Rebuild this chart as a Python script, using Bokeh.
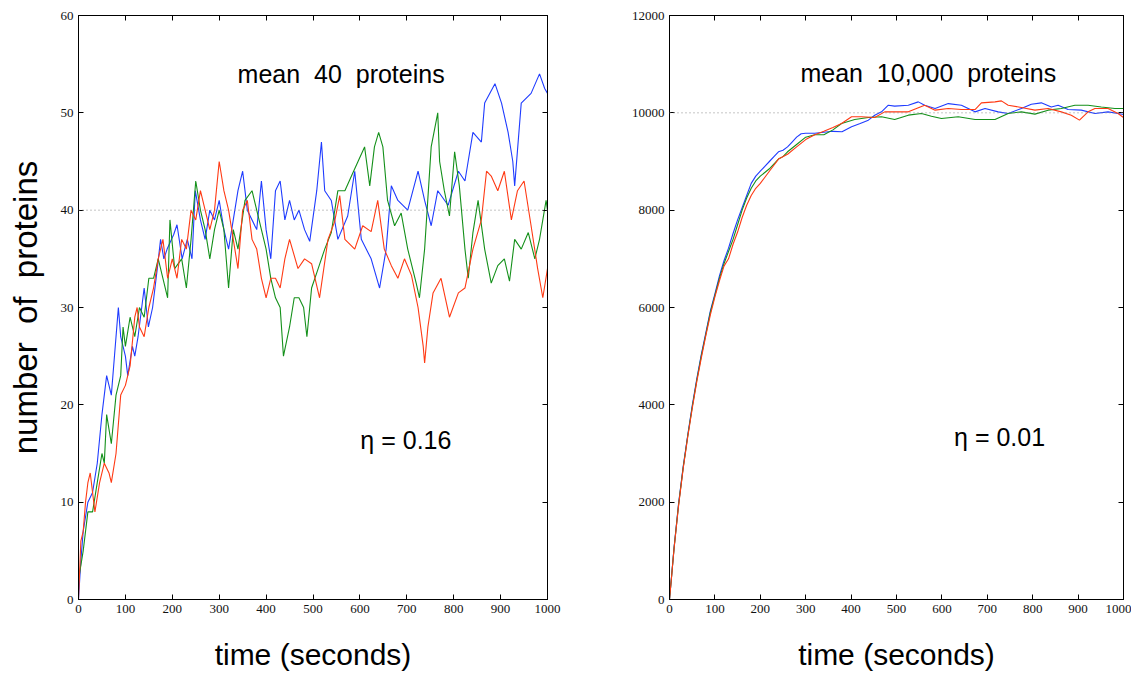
from bokeh.plotting import figure
from bokeh.models import LinearAxis, Span, Label, FixedTicker
from bokeh.layouts import row
from bokeh.embed import file_html
from bokeh.resources import INLINE

# ---------------- data: left panel (mean 40 proteins) ----------------
L_blue_t = [0, 5, 10, 20, 30, 40, 50, 60, 70, 80, 85, 90, 100, 105, 115, 120, 127, 140, 149, 158,
            168, 175, 182, 189, 203, 210, 221, 232, 242, 249, 260, 270, 280, 290, 300, 310, 320,
            340, 350, 360, 380, 390, 400, 410, 420, 430, 440, 450, 460, 470, 482, 493, 508, 518,
            525, 539, 553, 574, 589, 603, 624, 642, 656, 667, 681, 702, 724, 738, 752, 766, 788,
            810, 824, 841, 859, 866, 888, 902, 916, 926, 930, 944, 965, 983, 994, 1000]
L_blue_v = [0, 4, 7, 10, 11, 14, 19, 23, 21, 27, 30, 27, 25, 23, 26, 25, 27, 32, 28, 30,
            34, 37, 35, 36, 37.5, 38.5, 35, 37, 35, 42, 39, 37, 40, 39, 41, 38, 36,
            42, 44, 40, 38, 43, 38, 35, 42, 43, 39, 41, 39, 40, 38, 36.8, 42, 47,
            42, 41, 37, 39.4, 44, 37, 35, 32, 36, 42.5, 41, 40, 44, 41, 38.4, 42, 40.5,
            44, 43, 48, 47, 51, 53, 51, 48, 45, 42.5, 51, 52, 54, 52.5, 52]

L_red_t = [0, 5, 10, 15, 20, 25, 35, 45, 55, 65, 70, 80, 90, 100, 110, 120, 125, 130, 140, 150,
           160, 170, 180, 190, 200, 210, 220, 230, 240, 250, 260, 270, 280, 290, 300, 310, 320,
           330, 340, 350, 360, 370, 380, 390, 400, 410, 420, 430, 440, 450, 468, 482, 497, 514,
           532, 546, 557, 568, 589, 606, 624, 638, 652, 667, 681, 695, 710, 724, 735, 738, 745,
           756, 773, 791, 810, 824, 841, 859, 870, 880, 894, 908, 923, 936, 950, 965, 979, 990,
           1000]
L_red_v = [0, 6, 7, 10, 12, 13, 9, 12, 14, 13, 12, 15, 21, 22, 24, 29, 30, 28, 27, 30,
           32, 35, 37, 33, 35, 33, 37, 36, 40, 39, 42, 40, 38, 40, 45, 42, 40,
           37, 34, 40, 41, 37, 36, 33, 31, 33, 33, 32, 35, 37, 34, 35, 34.5, 31,
           37, 38.8, 41.5, 37, 36, 38.4, 37.8, 41, 36, 34.3, 33, 35, 33.3, 30, 26, 24.3, 28,
           31.5, 33, 29, 31.5, 32, 36, 39, 44, 43.5, 42, 44, 39, 42, 43, 38.4, 34, 31,
           34]

L_green_t = [0, 10, 20, 30, 40, 50, 55, 60, 70, 80, 90, 95, 100, 110, 120, 130, 140, 150, 160,
             170, 180, 190, 195, 205, 220, 230, 240, 250, 260, 270, 280, 290, 300, 310, 320,
             330, 340, 355, 370, 380, 390, 400, 410, 420, 430, 437, 450, 460, 470, 480, 487,
             497, 511, 525, 539, 553, 568, 582, 596, 610, 621, 631, 640, 649, 659, 674, 688,
             702, 720, 727, 738, 752, 766, 770, 780, 791, 802, 812, 824, 831, 841, 852, 866,
             880, 894, 908, 919, 930, 944, 959, 973, 983, 997, 1000]
L_green_v = [2, 5, 9, 9, 12, 15, 14, 19, 16, 21, 23, 28, 26, 29, 27, 30, 29, 33, 33,
             35, 33, 31, 39, 34, 35, 32, 37, 43, 40, 38, 35, 38, 40, 38, 32,
             38, 36, 41, 42, 40, 38, 36, 33, 31, 30, 25, 28, 31, 31, 30, 27,
             32, 34, 36, 37.7, 42, 42, 43.5, 45, 46.5, 42.5, 46.5, 48, 46.5, 41, 38.4, 39.7,
             36, 32.5, 31, 36, 46.5, 50, 45, 42, 39.4, 46, 42.5, 36, 33, 37.7, 41, 36,
             32.5, 34.3, 35, 32.7, 37, 36, 37.7, 35, 37, 41, 40]

L_mean = 40

# ---------------- data: right panel (mean 10,000 proteins) ----------------
R_blue_t = [0, 5, 10, 20, 30, 40, 50, 60, 70, 80, 90, 100, 110, 120, 130, 140, 150, 160, 170,
            180, 190, 200, 210, 220, 230, 240, 250, 260, 270, 280, 290, 300, 320, 340, 360,
            380, 401, 420, 438, 452, 467, 482, 496, 526, 548, 562, 585, 614, 643, 658, 673,
            695, 724, 746, 775, 797, 819, 841, 856, 878, 907, 937, 966, 988, 1000]
R_blue_v = [0, 530, 1060, 1970, 2720, 3370, 3980, 4530, 5030, 5480, 5930, 6280, 6650, 6960,
            7220, 7520, 7800, 8050, 8300, 8550, 8700, 8800, 8900, 9000, 9100, 9200, 9230,
            9300, 9400, 9500, 9570, 9580, 9580, 9600, 9620, 9610, 9713, 9780, 9850, 9950,
            10020, 10157, 10137, 10157, 10225, 10157, 10090, 10190, 10157, 10090, 10020,
            10090, 10020, 9986, 10090, 10178, 10205, 10120, 10157, 10068, 10055, 9986,
            10020, 9986, 9966]

R_green_t = [0, 5, 10, 20, 30, 40, 50, 60, 70, 80, 90, 100, 110, 120, 130, 140, 150, 160, 170,
             180, 190, 200, 220, 240, 250, 260, 280, 300, 320, 340, 360, 379, 408, 438, 467,
             496, 526, 555, 577, 599, 636, 673, 717, 746, 775, 805, 834, 863, 893, 922, 951,
             981, 1000]
R_green_v = [0, 520, 1050, 1950, 2700, 3350, 3950, 4500, 5000, 5450, 5900, 6250, 6600, 6900,
             7150, 7400, 7700, 8000, 8250, 8450, 8600, 8700, 8850, 9050, 9100, 9200, 9350,
             9500, 9550, 9550, 9650, 9780, 9863, 9904, 9918, 9863, 9952, 9986, 9931, 9884,
             9918, 9863, 9863, 9986, 10020, 9973, 10055, 10090, 10157, 10157, 10120, 10090,
             10090]

R_red_t = [0, 5, 10, 20, 30, 40, 50, 60, 70, 80, 90, 100, 110, 120, 130, 140, 150, 160, 170,
           180, 190, 200, 220, 240, 260, 280, 300, 320, 340, 360, 379, 401, 423, 452, 474,
           496, 526, 562, 585, 614, 643, 673, 687, 717, 731, 746, 775, 805, 834, 863, 885,
           903, 922, 937, 966, 988, 1000]
R_red_v = [0, 510, 1040, 1930, 2680, 3330, 3920, 4470, 4960, 5420, 5850, 6220, 6550, 6850,
           7000, 7300, 7550, 7850, 8100, 8300, 8450, 8550, 8800, 9050, 9150, 9300, 9450,
           9550, 9620, 9700, 9780, 9918, 9918, 9904, 10020, 10020, 10020, 10157, 10055,
           10090, 10068, 10068, 10205, 10225, 10246, 10157, 10110, 10055, 10090, 10020,
           9952, 9850, 10020, 10090, 10090, 9986, 9904]

R_mean = 10000

x_ticks = [0, 100, 200, 300, 400, 500, 600, 700, 800, 900, 1000]
L_y_ticks = [0, 10, 20, 30, 40, 50, 60]
R_y_ticks = [0, 2000, 4000, 6000, 8000, 10000, 12000]

BLUE = "#1f3cff"
GREEN = "#14901a"
RED = "#ff3a14"
TICK_FONT = "Liberation Sans Narrow"
TEXT_FONT = "Liberation Sans"
NB = "\u00a0"


def style_axis(ax, labels=True):
    ax.major_tick_in = 5
    ax.major_tick_out = 0
    ax.minor_tick_line_color = None
    ax.axis_line_color = "black"
    ax.major_tick_line_color = "black"
    ax.major_label_text_font = TICK_FONT
    if labels:
        ax.major_label_text_font_size = "13px"
        ax.major_label_text_color = "#111111"
        ax.major_label_standoff = 5
    else:
        ax.major_label_text_font_size = "1px"
        ax.major_label_text_color = None
        ax.major_label_standoff = 0


def make_panel(ymax, yticks, series, mean, fw, mbl, mbr, title, tx, ty, eta, ex, ey, ylabel):
    p = figure(x_range=(0, 1000), y_range=(0, ymax), output_backend="svg",
               toolbar_location=None, frame_width=fw, frame_height=584,
               min_border_left=mbl, min_border_right=mbr, min_border_top=15,
               min_border_bottom=70, background_fill_color="white",
               border_fill_color="white")
    p.grid.visible = False
    p.outline_line_color = "black"
    p.xaxis.ticker = FixedTicker(ticks=x_ticks)
    p.yaxis.ticker = FixedTicker(ticks=yticks)
    style_axis(p.xaxis[0])
    style_axis(p.yaxis[0])
    p.xaxis.axis_label = "time (seconds)"
    p.xaxis.axis_label_text_font = TEXT_FONT
    p.xaxis.axis_label_text_font_size = "30px"
    p.xaxis.axis_label_text_font_style = "normal"
    p.xaxis.axis_label_text_color = "black"
    p.xaxis.axis_label_standoff = 22
    if ylabel:
        p.yaxis.axis_label = ylabel
        p.yaxis.axis_label_text_font = TEXT_FONT
        p.yaxis.axis_label_text_font_size = "33px"
        p.yaxis.axis_label_text_font_style = "normal"
        p.yaxis.axis_label_text_color = "black"
        p.yaxis.axis_label_standoff = 14
    top = LinearAxis(ticker=FixedTicker(ticks=x_ticks))
    style_axis(top, labels=False)
    p.add_layout(top, "above")
    right = LinearAxis(ticker=FixedTicker(ticks=yticks))
    style_axis(right, labels=False)
    p.add_layout(right, "right")

    p.add_layout(Span(location=mean, dimension="width", line_color="#8a8a8a",
                      line_dash="1 3", line_width=1))
    for (t, v, c) in series:
        p.line(t, v, line_color=c, line_width=1.1)

    p.add_layout(Label(x=tx, y=ty, text=title, text_font=TEXT_FONT, text_font_size="25px",
                       text_align="center", text_baseline="middle", text_color="black"))
    p.add_layout(Label(x=ex, y=ey, text=eta, text_font=TEXT_FONT, text_font_size="25px",
                       text_align="center", text_baseline="middle", text_color="black"))
    return p


p1 = make_panel(60, L_y_ticks,
                [(L_blue_t, L_blue_v, BLUE), (L_green_t, L_green_v, GREEN), (L_red_t, L_red_v, RED)],
                L_mean, 469, 78, 81,
                "mean" + NB + NB + "40" + NB + NB + "proteins", 560, 54,
                "\u03b7 = 0.16", 698, 16.4,
                "number" + NB + NB + "of" + NB + NB + "proteins")
p2 = make_panel(12000, R_y_ticks,
                [(R_blue_t, R_blue_v, BLUE), (R_green_t, R_green_v, GREEN), (R_red_t, R_red_v, RED)],
                R_mean, 454, 40, 8,
                "mean" + NB + NB + "10,000" + NB + NB + "proteins", 570, 10810,
                "\u03b7 = 0.01", 727, 3340, None)

layout = row(p1, p2)
open("out.html", "w").write(file_html(layout, INLINE))
